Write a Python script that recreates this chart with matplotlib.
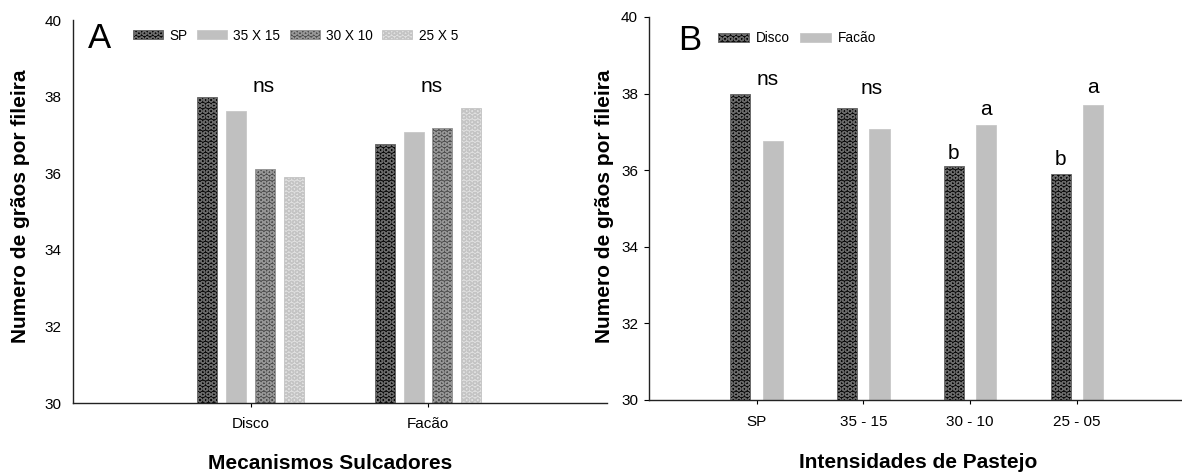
import matplotlib
matplotlib.use("Agg")
import matplotlib.pyplot as plt
from matplotlib.patches import Patch
import numpy as np

plt.rcParams['font.family'] = ['Liberation Sans', 'DejaVu Sans']
plt.rcParams['hatch.linewidth'] = 0.9

# ---------------- data ----------------
mechanisms = ["Disco", "Facão"]
intensities = ["SP", "35 - 15", "30 - 10", "25 - 05"]
legend_a = ["SP", "35 X 15", "30 X 10", "25 X 5"]

disco = [38.0, 37.63, 36.11, 35.90]
facao = [36.77, 37.07, 37.17, 37.71]

# panel A: series = intensity, groups = mechanism
series_a = {
    "SP": [disco[0], facao[0]],
    "35 X 15": [disco[1], facao[1]],
    "30 X 10": [disco[2], facao[2]],
    "25 X 5": [disco[3], facao[3]],
}

ann_a = [("ns", 0.075, 38.12), ("ns", 1.02, 38.12)]
ann_b = [("ns", 0.105, 38.22), ("ns", 1.08, 37.99),
         ("b", 2 - 0.155, 36.29), ("a", 2 + 0.15, 37.44),
         ("b", 3 - 0.155, 36.14), ("a", 3 + 0.15, 38.02)]

# ---------------- styles ----------------
styles = {
    "SP": dict(facecolor="#080808", edgecolor="#6a6a6a", hatch="OOO"),
    "35 X 15": dict(facecolor="#c0c0c0", edgecolor="#c8c8c8", hatch=None),
    "30 X 10": dict(facecolor="#4e4e4e", edgecolor="#969696", hatch="OOO"),
    "25 X 5": dict(facecolor="#e0e0e0", edgecolor="#c4c4c4", hatch="OOO"),
}
style_b = {
    "Disco": styles["SP"],
    "Facão": styles["35 X 15"],
}

W, H = 1182, 473
fig = plt.figure(figsize=(W / 100, H / 100), dpi=100)

axA = fig.add_axes([73 / W, 1 - 403 / H, (607 - 73) / W, 383 / H])
axB = fig.add_axes([649 / W, 1 - 400 / H, (1182 - 649) / W, 383 / H])

# ---------------- panel A ----------------
xa = np.arange(len(mechanisms))
wA = 0.113
stepA = 0.162
for i, name in enumerate(legend_a):
    axA.bar(xa + (i - 1.5) * stepA, series_a[name], width=wA,
            linewidth=0.6, **styles[name])
axA.set_ylim(30, 40)
axA.set_xlim(-1.0, 2.008)
axA.set_yticks(np.arange(30, 41, 2))
axA.set_xticks(xa)
axA.set_xticklabels(mechanisms)
axA.tick_params(axis='y', length=0, pad=8, labelsize=11)
axA.tick_params(axis='x', length=3, width=0.8, pad=7, labelsize=11)
for t, x, y in ann_a:
    axA.text(x, y, t, ha='center', va='baseline', fontsize=15)
handlesA = [Patch(linewidth=0.6, **styles[n]) for n in legend_a]
axA.legend(handlesA, legend_a, loc='center left',
           bbox_to_anchor=(133 / W, 1 - 35.5 / H), bbox_transform=fig.transFigure,
           ncol=4, frameon=False, fontsize=9.8, handlelength=2.2, handleheight=0.58,
           handletextpad=0.45, columnspacing=0.72, borderpad=0, borderaxespad=0)
axA.set_ylabel("Numero de grãos por fileira", fontsize=15, fontweight='bold', va='center')
axA.yaxis.set_label_coords(-0.0983, 0.514)
axA.set_xlabel("Mecanismos Sulcadores", fontsize=15, fontweight='bold')
axA.xaxis.set_label_coords(0.481, -0.133)

# ---------------- panel B ----------------
xb = np.arange(len(intensities))
wB = 0.19
axB.bar(xb - 0.153, disco, width=wB, linewidth=0.6, **style_b["Disco"])
axB.bar(xb + 0.150, facao, width=wB, linewidth=0.6, **style_b["Facão"])
axB.set_ylim(30, 40)
axB.set_xlim(-1.008, 3.983)
axB.set_yticks(np.arange(30, 41, 2))
axB.set_xticks(xb)
axB.set_xticklabels(intensities)
axB.tick_params(axis='y', length=3.6, width=0.8, pad=4.3, labelsize=11)
axB.tick_params(axis='x', length=3, width=0.8, pad=8, labelsize=11)
for t, x, y in ann_b:
    axB.text(x, y, t, ha='center', va='baseline', fontsize=15)
handlesB = [Patch(linewidth=0.6, **style_b[n]) for n in mechanisms]
axB.legend(handlesB, mechanisms, loc='center left',
           bbox_to_anchor=(718 / W, 1 - 38.5 / H), bbox_transform=fig.transFigure,
           ncol=2, frameon=False, fontsize=9.8, handlelength=2.3, handleheight=0.66,
           handletextpad=0.5, columnspacing=0.72, borderpad=0, borderaxespad=0)
axB.set_ylabel("Numero de grãos por fileira", fontsize=15, fontweight='bold', va='center')
axB.yaxis.set_label_coords(-0.0844, 0.5065)
axB.set_xlabel("Intensidades de Pastejo", fontsize=15, fontweight='bold')
axB.xaxis.set_label_coords(0.505, -0.138)

for ax in (axA, axB):
    for s in ("top", "right"):
        ax.spines[s].set_visible(False)
    for s in ("left", "bottom"):
        ax.spines[s].set_linewidth(1.0)
        ax.spines[s].set_color("#222222")

fig.text(88 / W, 1 - 48 / H, "A", fontsize=25, ha='left', va='baseline')
fig.text(678 / W, 1 - 50 / H, "B", fontsize=25, ha='left', va='baseline')

fig.savefig("out.png", dpi=100)
